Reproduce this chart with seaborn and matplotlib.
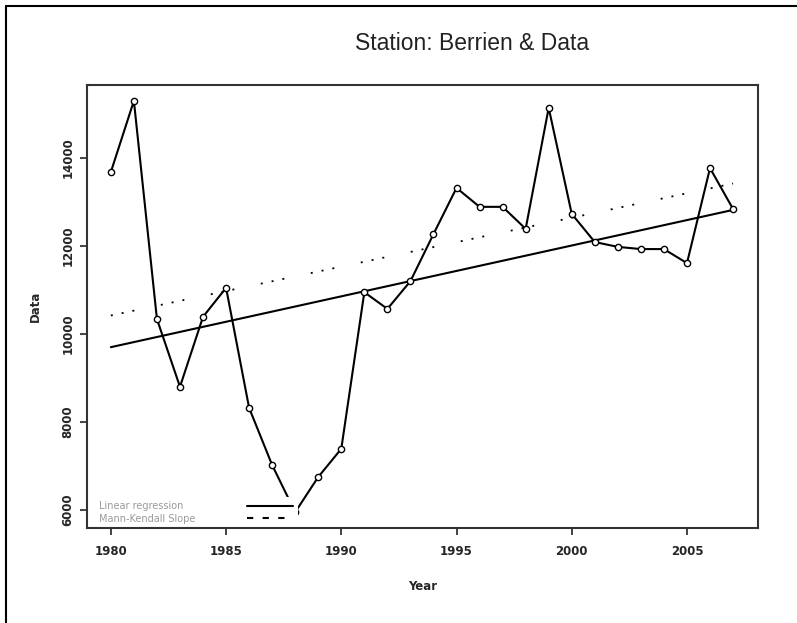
import numpy as np
import pandas as pd
import matplotlib
matplotlib.use('Agg')
import matplotlib.pyplot as plt
from matplotlib.lines import Line2D
import seaborn as sns

# values
years = list(range(1980, 2008))
values = [13680, 15300, 10340, 8800, 10390, 11050, 8320, 7020, 5950, 6750,
          7390, 10950, 10570, 11200, 12270, 13320, 12890, 12890, 12390, 15140,
          12730, 12090, 11980, 11930, 11930, 11610, 13770, 12840]

trend_years = [1980, 2007]
linear_fit = [9700, 12820]
mann_kendall = [10420, 13420]

y_ticks = [6000, 8000, 10000, 12000, 14000]
x_ticks = [1980, 1985, 1990, 1995, 2000, 2005]

df = pd.DataFrame({'Year': years, 'Data': values})
trend = pd.DataFrame({'Year': trend_years, 'lin': linear_fit, 'mk': mann_kendall})

sns.set_style('ticks')
plt.rcParams['font.family'] = ['DejaVu Sans']

fig = plt.figure(figsize=(7.97, 6.23), dpi=100)
ax = fig.add_axes([0.109, 0.1525, 0.842, 0.7111])

sns.lineplot(data=df, x='Year', y='Data', ax=ax, color='black', lw=1.5,
             marker='o', markersize=4.5, markerfacecolor='white',
             markeredgecolor='black', markeredgewidth=1, zorder=3)
sns.lineplot(data=trend, x='Year', y='lin', ax=ax, color='black', lw=1.5, zorder=2)
sns.lineplot(data=trend, x='Year', y='mk', ax=ax, color='black', lw=1.3, zorder=2)
ax.lines[-1].set_dashes((1.1, 5, 1.1, 5, 1.1, 15))

ax.set_xlim(1978.96, 2008.08)
ax.set_ylim(5590, 15660)
ax.set_xticks(x_ticks)
ax.set_yticks(y_ticks)
ax.set_xticklabels([str(t) for t in x_ticks], fontsize=8.5, fontweight='bold')
ax.set_yticklabels([str(t) for t in y_ticks], fontsize=8.5, fontweight='bold',
                   rotation=90, va='center')
ax.tick_params(axis='both', length=5, width=1.2, color='#222222')
ax.tick_params(axis='x', pad=7)
ax.tick_params(axis='y', pad=4)
for sp in ax.spines.values():
    sp.set_linewidth(1.5)
    sp.set_color('#333333')
    sp.set_zorder(6)

ax.set_xlabel('Year', fontsize=8.5, fontweight='bold', labelpad=16)
ax.set_ylabel('Data', fontsize=8.5, fontweight='bold', labelpad=14)

fig.text(472 / 797, 1 - 43 / 623, 'Station: Berrien & Data', ha='center', va='center',
         fontsize=16.5, family=['Liberation Sans', 'DejaVu Sans'], color='#222222')

handles = [Line2D([], [], color='black', lw=1.5),
           Line2D([], [], color='black', lw=1.5, dashes=(3, 4.5))]
leg = ax.legend(handles, ['Linear regression', 'Mann-Kendall Slope'],
                loc='lower left', bbox_to_anchor=(0.012, 0.0), borderaxespad=0.0,
                markerfirst=False, handlelength=4.8, handletextpad=2.0,
                labelspacing=0.25, fontsize=7, frameon=True, framealpha=1,
                borderpad=0.45)
leg.get_frame().set_edgecolor('none')
leg.get_frame().set_facecolor('white')
leg.set_zorder(5)
for t in leg.get_texts():
    t.set_color('#9a9a9a')
# text left, sample line right: stretch every row to the same width
for col in leg._legend_handle_box.get_children():
    for row in col.get_children():
        row.mode = 'expand'
        row.width = 194

# outer frame on the left and top edges of the picture
fig.add_artist(Line2D([6 / 797, 6 / 797], [0, 1 - 6 / 623], color='black', lw=1.5))
fig.add_artist(Line2D([6 / 797, 1], [1 - 6 / 623, 1 - 6 / 623], color='black', lw=1.5))

fig.savefig('out.png', dpi=100)
